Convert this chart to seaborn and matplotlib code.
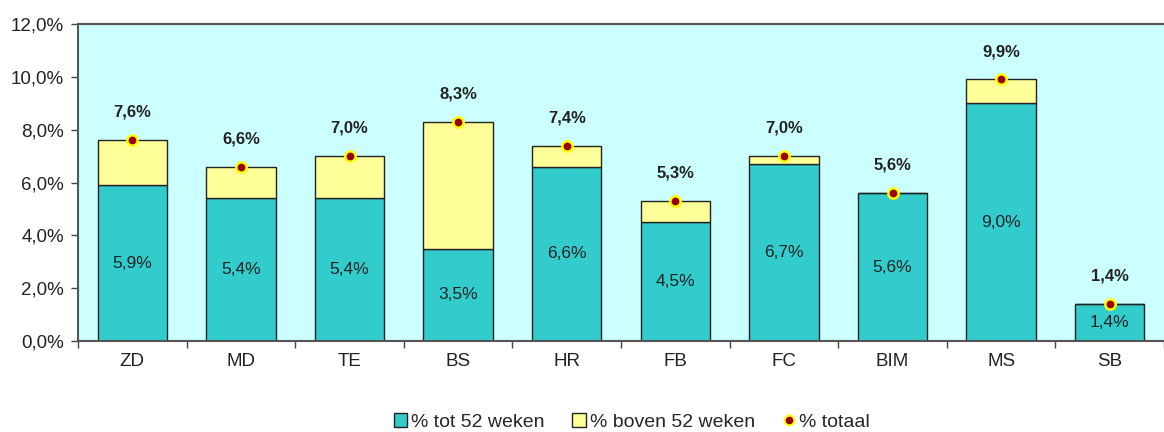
import matplotlib
matplotlib.use("Agg")
import matplotlib.pyplot as plt
import seaborn as sns
from matplotlib.lines import Line2D
from matplotlib.patches import Patch

categories = ["ZD", "MD", "TE", "BS", "HR", "FB", "FC", "BIM", "MS", "SB"]
tot52 = [5.9, 5.4, 5.4, 3.5, 6.6, 4.5, 6.7, 5.6, 9.0, 1.4]
boven52 = [1.7, 1.2, 1.6, 4.8, 0.8, 0.8, 0.3, 0.0, 0.9, 0.0]
totaal = [7.6, 6.6, 7.0, 8.3, 7.4, 5.3, 7.0, 5.6, 9.9, 1.4]
yticks = [0, 2, 4, 6, 8, 10, 12]

sns.set_theme(style="white")
plt.rcParams["font.family"] = ["Liberation Sans", "DejaVu Sans"]

fig = plt.figure(figsize=(11.64, 4.32), dpi=100)
ax = fig.add_axes([78 / 1164, 1 - 341 / 432, 1086 / 1164, 317 / 432])
ax.set_facecolor("#CCFFFF")

teal = "#33CCCC"
yellow = "#FFFF99"
sns.barplot(x=categories, y=tot52, color=teal, width=0.64, edgecolor="#222222",
            linewidth=1.0, ax=ax, saturation=1)
sns.barplot(x=categories, y=boven52, bottom=tot52, color=yellow, width=0.64,
            edgecolor="#222222", linewidth=1.0, ax=ax, saturation=1)
sns.scatterplot(x=categories, y=totaal, color="#990000", edgecolor="#FFFF00",
                linewidth=1.8, s=55, ax=ax, zorder=5)

for i, (t, tt) in enumerate(zip(tot52, totaal)):
    ax.text(i, t / 2, f"{t:.1f}%".replace(".", ","), ha="center", va="center",
            fontsize=12.5, color="#222222")
    ax.annotate(f"{tt:.1f}%".replace(".", ","), (i, tt), xytext=(0, 20),
                textcoords="offset points", ha="center", va="center",
                fontsize=12, fontweight="bold", color="#222222")

ax.set_xlim(-0.5, 9.39)
ax.set_ylim(0, 12)
ax.set_yticks(yticks)
ax.set_yticklabels([f"{v:.1f}%".replace(".", ",") for v in yticks], fontsize=13.5, color="#222222")
ax.set_xticks(range(len(categories)))
ax.set_xticklabels(categories, fontsize=13.5, color="#222222")
ax.set_xticks([i + 0.5 for i in range(-1, len(categories))], minor=True)
ax.tick_params(axis="x", which="major", length=0, pad=9)
ax.tick_params(axis="x", which="minor", length=5, width=1, color="#444444", direction="out", bottom=True)
ax.tick_params(axis="y", length=5, width=1, color="#444444", direction="out", left=True, pad=5)
ax.set_xlabel("")
ax.set_ylabel("")
for s in ["left", "bottom", "top"]:
    ax.spines[s].set_visible(True)
    ax.spines[s].set_color("#555555")
    ax.spines[s].set_linewidth(1.5)
ax.spines["right"].set_visible(False)

handles = [
    Patch(facecolor=teal, edgecolor="#222222", label="% tot 52 weken"),
    Patch(facecolor=yellow, edgecolor="#222222", label="% boven 52 weken"),
    Line2D([], [], marker="o", linestyle="", markerfacecolor="#990000",
           markeredgecolor="#FFFF00", markeredgewidth=1.5, markersize=7, label="% totaal"),
]
fig.legend(handles=handles, loc="center", bbox_to_anchor=(632 / 1164, 1 - 422 / 432),
           ncol=3, frameon=False, fontsize=14, handlelength=0.7, handleheight=0.7,
           handletextpad=0.2, columnspacing=1.4)

fig.savefig("out.png", dpi=100)
